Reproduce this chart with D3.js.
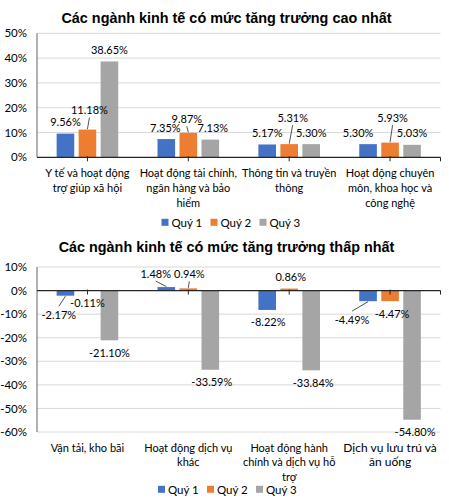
<!DOCTYPE html>
<html>
<head>
<meta charset="utf-8">
<script src="https://cdn.jsdelivr.net/npm/d3@7"></script>
<style>
  body { margin: 0; background: #fff; }
  svg { display: block; }
</style>
</head>
<body>
<div id="chart"></div>
<script>
// dữ liệu
const quarters = ["Quý 1", "Quý 2", "Quý 3"];
const colors = ["#4472C4", "#ED7D31", "#A5A5A5"];

const topTitle = "Các ngành kinh tế có mức tăng trưởng cao nhất";
const topCategories = [
  ["Y tế và hoạt động", "trợ giúp xã hội"],
  ["Hoạt động tài chính,", "ngân hàng và bảo", "hiểm"],
  ["Thông tin và truyền", "thông"],
  ["Hoạt động chuyên", "môn, khoa học và", "công nghệ"]
];
const topQ1 = [9.56, 7.35, 5.17, 5.30];
const topQ2 = [11.18, 9.87, 5.31, 5.93];
const topQ3 = [38.65, 7.13, 5.30, 5.03];
const topTicks = [0, 10, 20, 30, 40, 50];

const lowTitle = "Các ngành kinh tế có mức tăng trưởng thấp nhất";
const lowCategories = [
  ["Vận tải, kho bãi"],
  ["Hoạt động dịch vụ", "khác"],
  ["Hoạt động hành", "chính và dịch vụ hỗ", "trợ"],
  ["Dịch vụ lưu trú và", "ăn uống"]
];
const lowQ1 = [-2.17, 1.48, -8.22, -4.49];
const lowQ2 = [-0.11, 0.94, 0.86, -4.47];
const lowQ3 = [-21.10, -33.59, -33.84, -54.80];
const lowTicks = [10, 0, -10, -20, -30, -40, -50, -60];

// dịch nhãn dữ liệu [dx, dy, đường dẫn] theo quý, theo ngành
const topNudge = [
  [[0, 0, 0], [-1, 0, 0], [0, 0, 0], [-10, 0, 0]],
  [[2, -8, 1], [-1.5, -2.5, 1], [3.5, -15, 1], [2.5, -13.5, 1]],
  [[0, 0, 0], [2.5, 0, 0], [0, 0, 0], [0, 0, 0]]
];
const lowNudge = [
  [[-6.6, 6.6, 1], [-10.6, -2, 1], [1, 0, 0], [-16, 6, 1]],
  [[0, 0, 0], [1, -3, 1], [1.5, 0, 0], [2, 0, 0]],
  [[0, 0, 0], [1.5, 0, 0], [2, 0, 0], [3, 0, 0]]
];
// cỡ chữ nhãn ngành
const topCatSize = [11, 11, 11, 11];
const lowCatSize = [11, 11, 11, 12];

const width = 449, height = 500;
const svg = d3.select("#chart").append("svg")
  .attr("width", width).attr("height", height);

const labelFont = "Lato, 'Liberation Sans', sans-serif";

function drawChart(cfg) {
  const g = svg.append("g");
  const series = cfg.series;

  const x0 = d3.scaleBand().domain(d3.range(cfg.categories.length))
    .range([37, 440.5]);
  const x1 = d3.scaleBand().domain(d3.range(series.length))
    .range([-33, 33]).paddingInner(0.2).paddingOuter(0.1);
  const y = d3.scaleLinear().domain(cfg.domain).range(cfg.range);
  const cx = (i) => x0(i) + x0.bandwidth() / 2;

  // tiêu đề
  g.append("text")
    .attr("x", 226.5).attr("y", cfg.titleY)
    .attr("text-anchor", "middle").attr("dominant-baseline", "central")
    .style("font-family", "'Liberation Sans', Arial, sans-serif")
    .style("font-weight", "bold").style("font-size", "14.4px")
    .style("fill", "#000")
    .text(cfg.title);

  // lưới
  g.selectAll(".grid").data(cfg.ticks.filter((t) => t !== 0)).enter()
    .append("line")
    .attr("x1", 37).attr("x2", 440.5)
    .attr("y1", (d) => y(d)).attr("y2", (d) => y(d))
    .attr("stroke", "#d9d9d9").attr("stroke-width", 1);

  // trục tung
  const yAxis = g.append("g")
    .attr("transform", "translate(37,0)")
    .call(d3.axisLeft(y).tickValues(cfg.ticks).tickFormat((d) => d + "%")
      .tickSize(0).tickPadding(10));
  yAxis.select(".domain").remove();
  yAxis.selectAll("text")
    .style("font-family", labelFont).style("font-size", "11.5px")
    .style("fill", "#000");
  g.append("line")
    .attr("x1", 37).attr("x2", 37)
    .attr("y1", y(cfg.domain[1])).attr("y2", y(cfg.domain[0]))
    .attr("stroke", "#7f7f7f").attr("stroke-width", 1.2);

  // cột
  series.forEach((vals, j) => {
    g.selectAll(".bar" + j).data(vals).enter()
      .append("rect")
      .attr("x", (d, i) => cx(i) + x1(j))
      .attr("y", (d) => y(Math.max(0, d)))
      .attr("width", x1.bandwidth())
      .attr("height", (d) => Math.abs(y(d) - y(0)))
      .attr("fill", colors[j]);
  });

  // trục hoành tại 0
  g.append("line")
    .attr("x1", 37).attr("x2", 440.5)
    .attr("y1", y(0)).attr("y2", y(0))
    .attr("stroke", "#262626").attr("stroke-width", 1.2);
  g.selectAll(".xtick").data(d3.range(cfg.categories.length)).enter()
    .append("line")
    .attr("x1", (i) => cx(i)).attr("x2", (i) => cx(i))
    .attr("y1", y(0) - 1).attr("y2", y(0) + 4)
    .attr("stroke", "#262626").attr("stroke-width", 1);
  g.append("line")
    .attr("x1", 440.5).attr("x2", 440.5)
    .attr("y1", y(0)).attr("y2", y(0) + 4)
    .attr("stroke", "#262626").attr("stroke-width", 1);

  // nhãn dữ liệu
  series.forEach((vals, j) => {
    vals.forEach((v, i) => {
      const n = cfg.nudge[j][i];
      const bx = cx(i) + x1(j) + x1.bandwidth() / 2;
      const by = y(v);
      const dir = v >= 0 ? -1 : 1;
      const lx = bx + n[0];
      const ly = by + dir * 12 + n[1];
      if (n[2]) {
        g.append("line")
          .attr("x1", lx).attr("y1", ly - dir * 8)
          .attr("x2", bx).attr("y2", by + dir * 0.5)
          .attr("stroke", "#262626").attr("stroke-width", 0.8);
      }
      g.append("text")
        .attr("x", lx).attr("y", ly)
        .attr("text-anchor", "middle").attr("dominant-baseline", "central")
        .style("font-family", labelFont).style("font-size", "11px")
        .style("fill", "#000")
        .text(v.toFixed(2) + "%");
    });
  });

  // nhãn ngành
  cfg.categories.forEach((lines, i) => {
    lines.forEach((line, k) => {
      g.append("text")
        .attr("x", cx(i)).attr("y", cfg.catY + k * cfg.catStep)
        .attr("text-anchor", "middle").attr("dominant-baseline", "central")
        .style("font-family", labelFont).style("font-size", cfg.catSize[i] + "px")
        .style("fill", "#000")
        .text(line);
    });
  });

  // chú giải
  const legend = g.append("g")
    .attr("transform", `translate(${cfg.legendX},${cfg.legendY})`);
  quarters.forEach((q, j) => {
    const item = legend.append("g").attr("transform", `translate(${j * 49},0)`);
    item.append("rect")
      .attr("x", 0).attr("y", -3.5).attr("width", 7).attr("height", 7)
      .attr("fill", colors[j]);
    item.append("text")
      .attr("x", 10).attr("y", 0).attr("dominant-baseline", "central")
      .style("font-family", labelFont).style("font-size", "11.5px")
      .style("fill", "#000")
      .text(q);
  });
}

drawChart({
  title: topTitle, titleY: 18,
  categories: topCategories,
  catSize: topCatSize,
  series: [topQ1, topQ2, topQ3],
  domain: [0, 50], range: [157.3, 33.3],
  ticks: topTicks,
  nudge: topNudge,
  catY: 172.7, catStep: 15,
  legendX: 161.5, legendY: 222.3
});

drawChart({
  title: lowTitle, titleY: 247.3,
  categories: lowCategories,
  catSize: lowCatSize,
  series: [lowQ1, lowQ2, lowQ3],
  domain: [-60, 10], range: [432, 267],
  ticks: lowTicks,
  nudge: lowNudge,
  catY: 447.3, catStep: 14.5,
  legendX: 158, legendY: 489.3
});
</script>
</body>
</html>
